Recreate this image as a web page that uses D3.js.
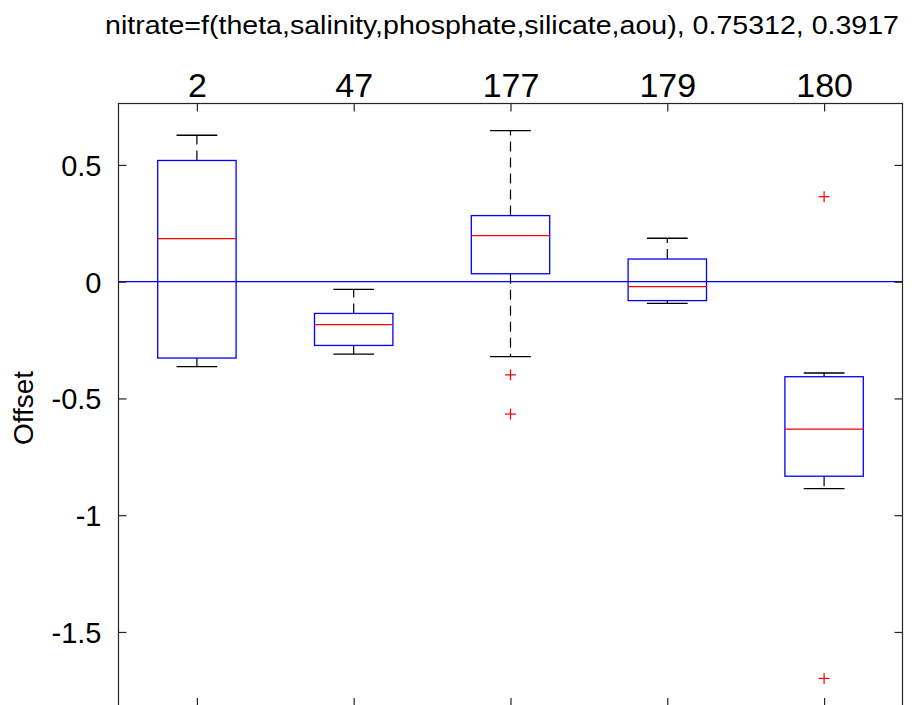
<!DOCTYPE html>
<html>
<head>
<meta charset="utf-8">
<script src="https://cdn.jsdelivr.net/npm/d3@7"></script>
<style>
  html, body { margin: 0; padding: 0; background: #fff; }
  svg { display: block; }
  text { font-family: "Liberation Sans", Arial, Helvetica, sans-serif; fill: #000; }
</style>
</head>
<body>
<svg id="chart" width="914" height="705"></svg>
<script>
// Station groups along the top axis
const categories = ["2", "47", "177", "179", "180"];

// Box statistics per station (offset values)
const whiskerHigh = [0.627, -0.033, 0.647, 0.186, -0.391];
const q3          = [0.519, -0.136, 0.283, 0.097, -0.407];
const medians     = [0.184, -0.184, 0.197, -0.021, -0.631];
const q1          = [-0.327, -0.273, 0.034, -0.081, -0.833];
const whiskerLow  = [-0.364, -0.310, -0.321, -0.093, -0.886];

// Points beyond the whiskers
const outliers = [[], [], [-0.399, -0.567], [], [0.364, -1.699]];

// Y axis ticks and limits
const yTicks = [-1.5, -1, -0.5, 0, 0.5];
const yLimits = [-1.817, 0.763];

const titleText = "nitrate=f(theta,salinity,phosphate,silicate,aou), 0.75312, 0.3917";
const yLabel = "Offset";

const svg = d3.select("#chart");
const plotLeft = 118.5, plotRight = 902.5, plotTop = 103.5, plotBottom = 706;

const x = d3.scaleLinear().domain([0.5, categories.length + 0.5]).range([plotLeft, plotRight]);
const y = d3.scaleLinear().domain(yLimits).range([plotBottom, plotTop]);

const boxHalf = 0.25, capHalf = 0.13;
const blue = "#0000ff", red = "#ff0000", frame = "#262626";

// Title
svg.append("text")
  .attr("x", 502)
  .attr("y", 34)
  .attr("text-anchor", "middle")
  .attr("font-size", 26)
  .attr("textLength", 794)
  .attr("lengthAdjust", "spacingAndGlyphs")
  .text(titleText);

// Y axis label
svg.append("text")
  .attr("transform", `translate(33, 408) rotate(-90)`)
  .attr("text-anchor", "middle")
  .attr("font-size", 28)
  .text(yLabel);

const plot = svg.append("g");

// Reference line at zero
plot.append("line")
  .attr("x1", plotLeft).attr("x2", plotRight)
  .attr("y1", y(0)).attr("y2", y(0))
  .attr("stroke", blue).attr("stroke-width", 1.2);

const idx = d3.range(categories.length);
const groups = plot.selectAll("g.box").data(idx).join("g").attr("class", "box");

// Dashed whiskers
groups.append("line")
  .attr("x1", i => x(i + 1)).attr("x2", i => x(i + 1))
  .attr("y1", i => y(q3[i])).attr("y2", i => y(whiskerHigh[i]))
  .attr("stroke", "#000").attr("stroke-width", 1.2).attr("stroke-dasharray", "10,6");
groups.append("line")
  .attr("x1", i => x(i + 1)).attr("x2", i => x(i + 1))
  .attr("y1", i => y(q1[i])).attr("y2", i => y(whiskerLow[i]))
  .attr("stroke", "#000").attr("stroke-width", 1.2).attr("stroke-dasharray", "10,6");

// Whisker caps
[whiskerHigh, whiskerLow].forEach(arr => {
  groups.append("line")
    .attr("x1", i => x(i + 1 - capHalf)).attr("x2", i => x(i + 1 + capHalf))
    .attr("y1", i => y(arr[i])).attr("y2", i => y(arr[i]))
    .attr("stroke", "#000").attr("stroke-width", 1.3);
});

// Boxes
groups.append("rect")
  .attr("x", i => x(i + 1 - boxHalf))
  .attr("width", i => x(i + 1 + boxHalf) - x(i + 1 - boxHalf))
  .attr("y", i => y(q3[i]))
  .attr("height", i => y(q1[i]) - y(q3[i]))
  .attr("fill", "none").attr("stroke", blue).attr("stroke-width", 1.3);

// Medians
groups.append("line")
  .attr("x1", i => x(i + 1 - boxHalf)).attr("x2", i => x(i + 1 + boxHalf))
  .attr("y1", i => y(medians[i])).attr("y2", i => y(medians[i]))
  .attr("stroke", red).attr("stroke-width", 1.3);

// Outlier markers
const outPts = idx.flatMap(i => outliers[i].map(v => ({ i, v })));
const plus = plot.selectAll("g.out").data(outPts).join("g").attr("class", "out")
  .attr("transform", d => `translate(${x(d.i + 1)},${y(d.v)})`);
plus.append("line").attr("x1", -5.5).attr("x2", 5.5).attr("y1", 0).attr("y2", 0)
  .attr("stroke", red).attr("stroke-width", 1.2);
plus.append("line").attr("x1", 0).attr("x2", 0).attr("y1", -5.5).attr("y2", 5.5)
  .attr("stroke", red).attr("stroke-width", 1.2);

// Axes: ticks point inward, labels on the top and left
const tickLen = 8;
const xTop = d3.axisTop(x).tickValues(idx.map(i => i + 1))
  .tickFormat(d => categories[d - 1]).tickSizeInner(-tickLen).tickSizeOuter(0).tickPadding(14);
const gTop = svg.append("g").attr("transform", `translate(0,${plotTop})`).call(xTop);
gTop.selectAll("text").attr("font-size", 34).attr("dy", 0).attr("y", 97.3 - plotTop);
const xBottom = d3.axisBottom(x).tickValues(idx.map(i => i + 1))
  .tickFormat("").tickSizeInner(-tickLen).tickSizeOuter(0);
svg.append("g").attr("transform", `translate(0,${plotBottom})`).call(xBottom);

const yLeft = d3.axisLeft(y).tickValues(yTicks).tickFormat(d => String(d))
  .tickSizeInner(-tickLen).tickSizeOuter(0).tickPadding(17);
const gLeft = svg.append("g").attr("transform", `translate(${plotLeft},0)`).call(yLeft);
gLeft.selectAll("text").attr("font-size", 29).attr("dy", "0.36em");
const yRight = d3.axisRight(y).tickValues(yTicks).tickFormat("")
  .tickSizeInner(-tickLen).tickSizeOuter(0);
svg.append("g").attr("transform", `translate(${plotRight},0)`).call(yRight);

svg.selectAll(".domain").remove();
svg.selectAll(".tick line").attr("stroke", frame).attr("stroke-width", 1.2);
svg.selectAll(".tick text").attr("fill", "#000")
  .style("font-family", '"Liberation Sans", Arial, Helvetica, sans-serif');

// Axes frame
svg.append("rect")
  .attr("x", plotLeft).attr("y", plotTop)
  .attr("width", plotRight - plotLeft).attr("height", plotBottom - plotTop)
  .attr("fill", "none").attr("stroke", frame).attr("stroke-width", 1.2);
</script>
</body>
</html>
